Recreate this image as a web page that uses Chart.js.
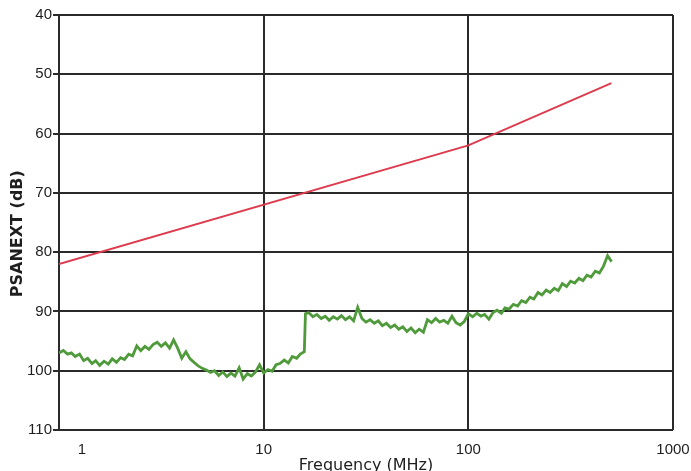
<!DOCTYPE html>
<html>
<head>
<meta charset="utf-8">
<script src="https://cdn.jsdelivr.net/npm/chart.js@4.4.1/dist/chart.umd.min.js"></script>
<style>
html,body{margin:0;padding:0;background:#fff;}
#wrap{width:691px;height:471px;}
</style>
</head>
<body>
<div id="wrap"><canvas id="c" width="691" height="471"></canvas></div>
<script>
// ---- data ----
const xTicks = [1, 10, 100, 1000];
const xTickLabels = ['1', '10', '100', '1000'];
const yTicks = [40, 50, 60, 70, 80, 90, 100, 110];

const limitFreq = [1, 100, 500];
const limitDb = [82, 62, 51.5];

const measFreq = [
  1, 1.05, 1.1, 1.15, 1.2, 1.26, 1.32, 1.38, 1.45, 1.51, 1.58, 1.66, 1.74, 1.82, 1.91, 2, 2.09, 2.19, 2.29, 2.4, 2.51, 2.63, 2.75, 2.88, 3.02, 3.16, 3.31, 3.47, 3.63, 3.8, 3.98, 4.17, 4.37, 4.57, 4.79, 5.01, 5.25, 5.5, 5.75, 6.03, 6.31, 6.61, 6.92, 7.24, 7.59, 7.94, 8.32, 8.71, 9.12, 9.55,
  10, 10.5, 11, 11.5, 12, 12.6, 13.2, 13.8, 14.5, 15.1, 15.8, 16.0, 16.6, 17.4, 18.2, 19.1, 20, 20.9, 21.9, 22.9, 24, 25.1, 26.3, 27.5, 28.8, 30.2, 31.6, 33.1, 34.7, 36.3, 38, 39.8, 41.7, 43.7, 45.7, 47.9, 50.1, 52.5, 55, 57.5, 60.3, 63.1, 66.1, 69.2, 72.4, 75.9, 79.4, 83.2, 87.1, 91.2, 95.5,
  100, 105, 110, 115, 120, 126, 132, 138, 145, 151, 158, 166, 174, 182, 191, 200, 209, 219, 229, 240, 251, 263, 275, 288, 302, 316, 331, 347, 363, 380, 398, 417, 437, 457, 479, 501
];
const measDb = [
  97.0, 96.6, 97.2, 97.0, 97.6, 97.2, 98.3, 97.9, 98.8, 98.3, 99.1, 98.4, 98.9, 98.0, 98.6, 97.8, 98.1, 97.2, 97.5, 95.8, 96.6, 95.9, 96.4, 95.6, 95.2, 95.9, 95.3, 96.2, 94.8, 96.2, 97.9, 96.8, 98.0, 98.6, 99.2, 99.6, 99.9, 100.3, 100.0, 100.8, 100.2, 101.0, 100.4, 100.9, 99.5, 101.4, 100.5, 100.9, 100.2, 99.0,
  100.4, 99.8, 100.1, 99.0, 98.8, 98.2, 98.7, 97.6, 97.9, 97.2, 96.8, 90.4, 90.2, 90.9, 90.5, 91.2, 90.8, 91.5, 90.9, 91.3, 90.7, 91.4, 90.9, 91.6, 89.3, 91.2, 91.8, 91.4, 92.0, 91.6, 92.4, 92.0, 92.7, 92.3, 93.0, 92.6, 93.4, 92.8, 93.6, 93.0, 93.5, 91.4, 91.9, 91.2, 91.8, 91.5, 92.0, 90.8, 91.9, 92.3, 91.7,
  90.4, 90.9, 90.3, 90.8, 90.5, 91.3, 90.2, 89.8, 90.3, 89.4, 89.6, 88.8, 89.1, 88.2, 88.5, 87.6, 87.9, 86.8, 87.2, 86.4, 86.8, 86.1, 86.5, 85.3, 85.8, 84.9, 85.2, 84.4, 84.8, 83.9, 84.2, 83.2, 83.5, 82.4, 80.6, 81.6
];

// ---- chart ----
const gridColor = '#2a2a2a';
const toPts = (xs, ys) => xs.map((x, i) => ({ x: x, y: ys[i] }));

new Chart(document.getElementById('c'), {
  type: 'scatter',
  data: {
    datasets: [
      {
        label: 'Limit',
        data: toPts(limitFreq, limitDb),
        showLine: true,
        borderColor: '#dd3b4e',
        borderWidth: 2,
        pointRadius: 0,
        tension: 0
      },
      {
        label: 'Measured',
        data: toPts(measFreq, measDb),
        showLine: true,
        borderColor: '#4f9a3a',
        borderWidth: 2.8,
        pointRadius: 0,
        tension: 0
      }
    ]
  },
  options: {
    responsive: false,
    animation: false,
    events: [],
    layout: { padding: { top: 15, right: 18, left: 0, bottom: 0 } },
    plugins: { legend: { display: false }, tooltip: { enabled: false } },
    scales: {
      x: {
        type: 'logarithmic',
        min: 1,
        max: 1000,
        afterBuildTicks: s => { s.ticks = xTicks.map(v => ({ value: v })); },
        afterFit: s => { s.height = 41; s.paddingLeft = 0; s.paddingRight = 0; },
        grid: { color: gridColor, lineWidth: 2, drawTicks: false },
        border: { display: false },
        ticks: {
          color: '#1e1e1e',
          padding: 11,
          maxRotation: 0,
          autoSkip: false,
          font: { family: 'Liberation Sans', size: 15 },
          callback: (v) => {
            const i = xTicks.indexOf(v);
            if (i === 0) return '           ' + xTickLabels[0];
            return i >= 0 ? xTickLabels[i] : '';
          }
        },
        title: {
          display: true,
          text: 'Frequency (MHz)',
          color: '#1e1e1e',
          padding: { top: 0, bottom: -4 },
          font: { family: 'DejaVu Sans', size: 16 }
        }
      },
      y: {
        type: 'linear',
        reverse: true,
        min: 40,
        max: 110,
        afterBuildTicks: s => { s.ticks = yTicks.map(v => ({ value: v })); },
        afterFit: s => { s.width = 59; },
        grid: { color: gridColor, lineWidth: 2, tickLength: 6, drawTicks: true },
        border: { display: true, color: gridColor, width: 2 },
        ticks: {
          color: '#1e1e1e',
          padding: 1,
          font: { family: 'Liberation Sans', size: 15 },
          callback: v => String(v)
        },
        title: {
          display: true,
          text: 'PSANEXT (dB)    ',
          color: '#1e1e1e',
          padding: { top: 8, bottom: 0 },
          font: { family: 'DejaVu Sans', size: 16, weight: 'bold' }
        }
      }
    }
  }
});
</script>
</body>
</html>
